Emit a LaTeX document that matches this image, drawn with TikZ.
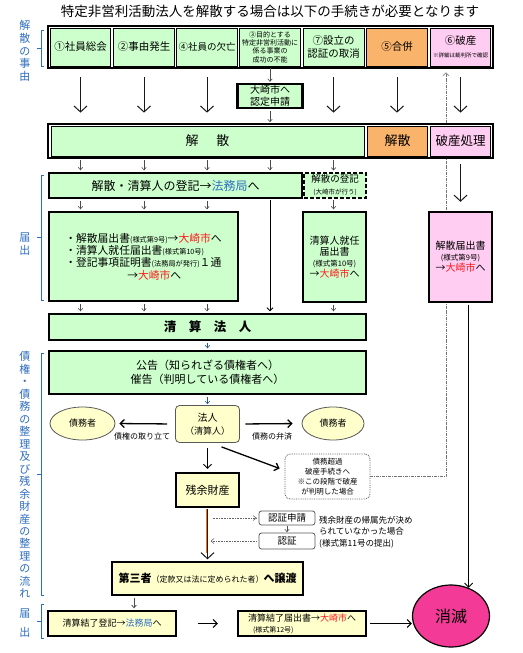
\documentclass[tikz,border=0pt]{standalone}
\usepackage{fontspec}
\setmainfont{Noto Sans CJK JP}
\usetikzlibrary{arrows.meta,shapes.geometric,backgrounds}
\definecolor{cgreen}{HTML}{CCFFCC}
\definecolor{corange}{HTML}{F9B36B}
\definecolor{cpink}{HTML}{FFCCF2}
\definecolor{cyellow}{HTML}{FFFFCC}
\definecolor{cblue}{HTML}{2F6FC4}
\definecolor{lblue}{HTML}{2E6EC0}
\definecolor{cmag}{HTML}{F23A96}
\definecolor{cred}{HTML}{FF1A1A}
\newcommand\fsz[2]{\fontsize{#1}{#2}\selectfont}
\newcommand\blu[1]{\textcolor{cblue}{#1}}
\newcommand\rd[1]{\textcolor{cred}{#1}}
\tikzset{
  frame/.style={draw, line width=2.4pt, inner sep=0pt},
  cellbox/.style={draw, line width=0.7pt, inner sep=0pt, align=center},
  thickbox/.style={draw, line width=2.4pt, inner sep=0pt, align=center},
  rbox/.style={draw=black!65, rounded corners=4pt, line width=0.8pt, inner sep=0pt, align=center},
  bigarrow/.style={draw=black!90, line width=1pt, -{Straight Barb[length=6pt,width=13pt,line width=1pt]}},
  smallarrow/.style={draw=black!70, line width=0.6pt, -{Straight Barb[length=2.5pt,width=4.5pt]}},
  midarrow/.style={draw=black, line width=1.3pt, -{Straight Barb[length=4pt,width=8pt]}},
  dotarrow/.style={draw=black!60, line width=0.6pt, densely dotted, -{Straight Barb[length=3pt,width=5pt]}},
  hasanline/.style={draw=black!55, line width=0.6pt, dash pattern=on 3pt off 1pt on 0.8pt off 1pt, -{Straight Barb[length=3pt,width=6pt]}},
  brack/.style={draw=lblue, line width=0.7pt},
  vlabel/.style={text=lblue, align=center, inner sep=0pt},
}
\begin{document}
\begin{tikzpicture}[x=1pt,y=-1pt]
\useasboundingbox (0,0) rectangle (522,653);
\begin{pgfonlayer}{background}
\fill[white] (0,0) rectangle (522,653);
\end{pgfonlayer}

% title
\node[font=\fsz{13.5}{15}, inner sep=0pt] (title) at (270,11) {特定非営利活動法人を解散する場合は以下の手続きが必要となります};

% left labels and brackets
\node[vlabel, font=\fsz{11}{12.75}] (lab1) at (25,51) {解\\散\\の\\事\\由};
\draw[brack] (44,30) -- (41,30) -- (41,66) -- (44,66) (41,48) -- (37,48);
\node[vlabel, font=\fsz{11}{13}] (lab2) at (25,244) {届\\出};
\draw[brack] (44,175) -- (41,175) -- (41,300) -- (44,300) (41,237) -- (37,237);
\node[vlabel, font=\fsz{11}{12.47}] (lab3) at (25,475) {債\\権\\・\\債\\務\\の\\整\\理\\及\\び\\残\\余\\財\\産\\の\\整\\理\\の\\流\\れ};
\draw[brack] (44,353) -- (41,353) -- (41,595) -- (44,595) (41,474) -- (37,474);
\node[vlabel, font=\fsz{11}{19}] (lab4) at (25,623) {届\\出};
\draw[brack] (44,604) -- (41,604) -- (41,638) -- (44,638) (41,621) -- (37,621);

% top row
\node[frame, minimum width=445, minimum height=42] (topframe) at (270.5,47) {};
\node[cellbox, fill=cgreen, minimum width=60, minimum height=38, font=\fsz{10.5}{12}] (c1) at (80.5,47) {①社員総会};
\node[cellbox, fill=cgreen, minimum width=61, minimum height=38, font=\fsz{10.5}{12}] (c2) at (144,47) {②事由発生};
\node[cellbox, fill=cgreen, minimum width=61, minimum height=38, font=\fsz{9.5}{12}] (c3) at (207,47) {④社員の欠亡};
\node[cellbox, fill=cgreen, minimum width=61, minimum height=38, font=\fsz{7}{8.3}] (c4) at (270,47) {③目的とする\\特定非営利活動に\\係る事業の\\成功の不能};
\node[cellbox, fill=cgreen, minimum width=61, minimum height=38, font=\fsz{10.5}{13}] (c5) at (333.5,47) {⑦設立の\\認証の取消};
\node[cellbox, fill=corange, minimum width=61, minimum height=38, font=\fsz{10.5}{12}] (c6) at (397,47) {⑤合併};
\node[cellbox, fill=cpink, minimum width=60, minimum height=38, font=\fsz{10.5}{12}] (c7) at (460.5,47) {⑥破産\\[1pt]{\fsz{5.5}{6}※詳細は裁判所で確認}};

% nintei
\node[thickbox, fill=cgreen, minimum width=65, minimum height=24, font=\fsz{10}{12}] (nintei) at (270,96) {大崎市へ\\認定申請};

% bar row
\node[frame, minimum width=445, minimum height=34] (barframe) at (270.5,141) {};
\node[cellbox, fill=cgreen, minimum width=313, minimum height=30, font=\fsz{13}{14}] (b1) at (207.5,141) {解\hspace{18pt}散};
\node[cellbox, fill=corange, minimum width=60, minimum height=30, font=\fsz{13}{14}] (b2) at (397.5,141) {解散};
\node[cellbox, fill=cpink, minimum width=60, minimum height=30, font=\fsz{12.5}{14}] (b3) at (460.5,141) {破産処理};

% row 3
\node[thickbox, fill=cgreen, minimum width=253, minimum height=25, font=\fsz{12}{14}] (touki) at (175.5,185.5) {解散・清算人の登記→\blu{法務局}へ};
\node[draw, dash pattern=on 4pt off 2pt, line width=2pt, inner sep=0pt, align=center, fill=cgreen, minimum width=62, minimum height=25] (ktouki) at (335,185.5) {{\fsz{9.5}{10}解散の登記}\\{\fsz{6.5}{7}(大崎市が行う)}};

% row 4
\node[thickbox, fill=cgreen, minimum width=189, minimum height=89, align=left, font=\fsz{10.8}{12.3}] (todoke) at (143.5,256.5) {・解散届出書{\fsz{7.2}{8}(様式第9号)}→\rd{大崎市}へ\\・清算人就任届出書{\fsz{7.2}{8}(様式第10号)}\\・登記事項証明書{\fsz{7.2}{8}(法務局が発行)}１通\\\hspace*{62pt}→\rd{大崎市}へ};
\node[thickbox, fill=cgreen, minimum width=63, minimum height=90, font=\fsz{10}{11.2}] (seisannin) at (334.5,257) {清算人就任\\届出書\\{\fsz{7.5}{9}(様式第10号)}\\→\rd{大崎市}へ};
\node[thickbox, fill=cpink, minimum width=63, minimum height=90, font=\fsz{10}{11}] (kaisan9) at (460.5,257) {解散届出書\\{\fsz{7.5}{9}(様式第9号)}\\→\rd{大崎市}へ};

% seisan hojin, kokoku
\node[thickbox, fill=cgreen, minimum width=317, minimum height=26, font=\fsz{12.5}{14}\bfseries] (shojin) at (207.5,327) {清　算　法　人};
\node[thickbox, fill=cgreen, minimum width=317, minimum height=43, font=\fsz{11}{13.5}] (kokoku) at (207.5,372.5) {公告（知られざる債権者へ）\\催告（判明している債権者へ）};

% houjin and debtors
\node[rbox, fill=cyellow, minimum width=64, minimum height=37, font=\fsz{10}{13}] (houjin) at (207.5,424) {法人\\{\fsz{9}{10}（清算人）}};
\node[ellipse, draw=black!65, line width=0.8pt, fill=cyellow, minimum width=65, minimum height=33, inner sep=0pt, font=\fsz{9}{10}] (saimu1) at (82.5,423.5) {債務者};
\node[ellipse, draw=black!65, line width=0.8pt, fill=cyellow, minimum width=62, minimum height=33, inner sep=0pt, font=\fsz{9}{10}] (saimu2) at (333,423.5) {債務者};
\node[font=\fsz{8}{9}, inner sep=0pt] (lbl1) at (142,436) {債権の取り立て};
\node[font=\fsz{8}{9}, inner sep=0pt] (lbl2) at (272,436) {債務の弁済};

% zanyo, saimuchoka
\node[thickbox, fill=cyellow, minimum width=63, minimum height=34, font=\fsz{11}{12}] (zanyo) at (207.5,490) {残余財産};
\node[draw=black!65, densely dotted, line width=0.8pt, rounded corners=5pt, fill=white, inner sep=0pt, align=center, minimum width=85, minimum height=45, font=\fsz{7.5}{10}] (saimuchoka) at (327.5,476.5) {債務超過\\破産手続きへ\\※この段階で破産\\が判明した場合};

% ninsho
\node[rbox, fill=white, minimum width=56, minimum height=14, font=\fsz{9.5}{10}, rounded corners=2.5pt] (nsh) at (287,518) {認証申請};
\node[rbox, fill=white, minimum width=56, minimum height=16, font=\fsz{9.5}{10}, rounded corners=2.5pt] (nin) at (287,541) {認証};
\node[anchor=west, align=left, inner sep=0pt, font=\fsz{8.5}{11.5}] (note) at (319,532) {残余財産の帰属先が決め\\られていなかった場合\\(様式第11号の提出)};

% daisansha
\node[thickbox, fill=cyellow, minimum width=191, minimum height=33, font=\fsz{11}{12}] (daisansha) at (207.5,578.5) {\textbf{第三者}{\fsz{8}{9}（定款又は法に定められた者）}\textbf{へ譲渡}};

% bottom row
\node[thickbox, fill=cyellow, minimum width=128, minimum height=25, font=\fsz{9}{10}] (sk) at (112,623.5) {清算結了登記→\blu{法務局}へ};
\node[thickbox, fill=cyellow, minimum width=128, minimum height=25, align=left, font=\fsz{9}{11}] (skt) at (302,623.5) {清算結了届出書→\rd{大崎市}へ\\\hspace*{5pt}{\fsz{7}{8}(様式第12号)}};
\node[ellipse, draw=black, line width=1.2pt, fill=cmag, minimum width=77, minimum height=62, inner sep=0pt, font=\fsz{16}{18}] (shometsu) at (451,616) {消滅};

% ---- connectors ----
\foreach \c in {c1,c2,c3,c5}
  \draw[bigarrow, shorten <=11pt, shorten >=13pt] (\c.south) -- (\c.south |- b1.north);
\draw[bigarrow, shorten <=11pt, shorten >=13pt] (c6.south) -- (c6.south |- b2.north);
\draw[bigarrow, shorten <=11pt, shorten >=13pt] (c7.south) -- (c7.south |- b3.north);
\draw[smallarrow, shorten <=2pt, shorten >=1pt] (c4.south) -- (nintei.north);
\draw[smallarrow, shorten <=1.5pt, shorten >=3.5pt] (nintei.south) -- (nintei.south |- b1.north);

\foreach \c in {c1,c2,c3,c4}
  \draw[smallarrow, shorten <=3.5pt, shorten >=1.5pt] (\c |- b1.south) -- (\c |- touki.north);
\draw[smallarrow, shorten <=3.5pt, shorten >=1.5pt] (c5 |- b1.south) -- (c5 |- ktouki.north);
\draw[bigarrow, shorten <=8pt, shorten >=9pt] (b3.south) -- (b3.south |- kaisan9.north);

\foreach \c in {c1,c2,c3}
  \draw[smallarrow, shorten <=1.5pt, shorten >=1.5pt] (\c |- touki.south) -- (\c |- todoke.north);
\draw[smallarrow, shorten <=1.2pt, shorten >=1.5pt] (c5 |- ktouki.south) -- (c5 |- seisannin.north);
\draw[draw=black, line width=0.8pt, -{Straight Barb[length=3pt,width=6pt]}, shorten <=1.2pt, shorten >=1.5pt] (c4 |- touki.south) -- (c4 |- shojin.north);

\foreach \c in {c1,c2,c3}
  \draw[smallarrow, shorten <=1.5pt, shorten >=1.5pt] (\c |- todoke.south) -- (\c |- shojin.north);
\draw[smallarrow, shorten <=1.5pt, shorten >=1.5pt] (c5 |- seisannin.south) -- (c5 |- shojin.north);
\draw[smallarrow, draw=lblue!80!black, shorten <=1.5pt, shorten >=1.5pt] (shojin.south) -- (kokoku.north);
\draw[smallarrow, draw=lblue!80!black, shorten <=1.5pt, shorten >=1pt] (kokoku.south) -- (houjin.north);

\draw[midarrow, shorten <=8pt, shorten >=4pt] (houjin.west) -- (saimu1.east);
\draw[midarrow, shorten <=5.5pt, shorten >=9pt] (houjin.east) -- (saimu2.west);
\draw[midarrow, line width=0.9pt, shorten <=5pt, shorten >=3pt] (houjin.south) -- (zanyo.north);
\draw[midarrow] ([xshift=14pt,yshift=-4pt]houjin.south) -- ([xshift=-5pt,yshift=8pt]saimuchoka.west);

\draw[draw=orange!85!red, line width=0.5pt, shorten <=1.2pt, shorten >=8pt] ([xshift=-1.2pt]zanyo.south) -- ([xshift=-1.2pt]daisansha.north);
\draw[bigarrow, line width=1.3pt, shorten <=1.2pt, shorten >=1.5pt] (zanyo.south) -- (daisansha.north);
\draw[dotarrow, shorten <=5pt, shorten >=2pt] (zanyo.south |- nsh.west) -- (nsh.west);
\draw[smallarrow, shorten <=0.5pt, shorten >=0.5pt] (nsh.south) -- (nin.north);
\draw[dotarrow, shorten <=2pt, shorten >=3pt] (nin.west) -- (zanyo.south |- nin.west);

\coordinate (x134) at (134,600);
\draw[smallarrow, line width=0.8pt, shorten <=1.5pt, shorten >=1.5pt] (x134 |- daisansha.south) -- (x134 |- sk.north);
\draw[midarrow, line width=1pt, shorten <=21pt, shorten >=19pt] (sk.east) -- (skt.west);
\draw[midarrow, line width=1pt, shorten <=3pt] (skt.east) -- (skt.east -| shometsu.west);
\draw[midarrow, line width=1pt, shorten <=1.5pt] (kaisan9.south -| shometsu.58) -- (shometsu.58);

\coordinate (hx) at (446,300);
\begin{pgfonlayer}{background}
\draw[hasanline, shorten >=6pt] (saimuchoka.east) -- (saimuchoka.east -| hx) -- (hx |- c7.south);
\end{pgfonlayer}
\end{tikzpicture}
\end{document}
